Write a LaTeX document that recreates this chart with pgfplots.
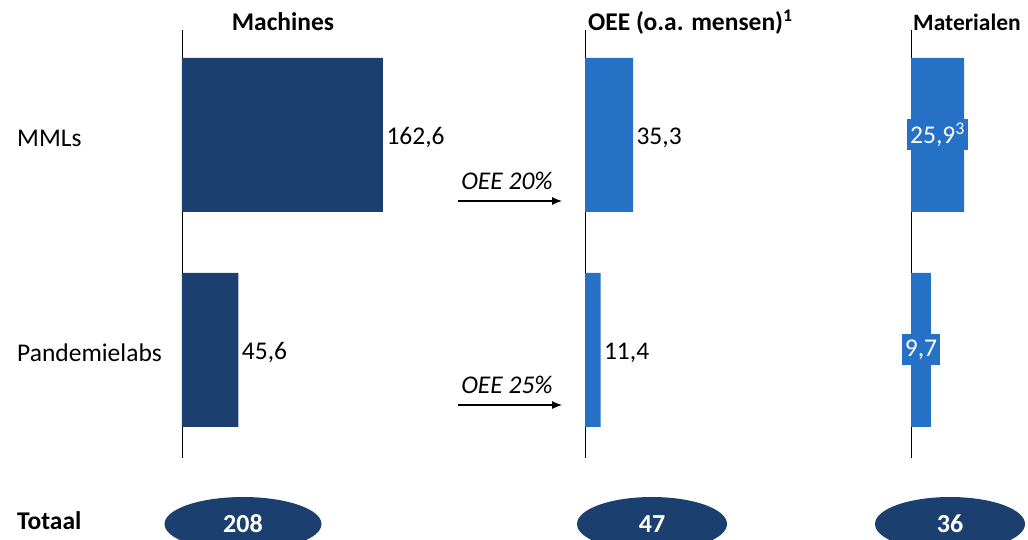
\documentclass[border=0pt]{standalone}
\usepackage{pgfplots}
\pgfplotsset{compat=1.18}
\usepackage{pgfplotstable}
\usepackage{fontspec}
\setmainfont{Carlito}
\usetikzlibrary{arrows.meta,shapes.geometric}
\definecolor{navy}{HTML}{1B3F6E}
\definecolor{midblue}{HTML}{2571C5}
\newcommand\lbl{\fontsize{25.5}{30}\selectfont}

% values per panel (cat 0 = MMLs, 1 = Pandemielabs)
\pgfplotstableread{
cat v
0 162.6
1 45.6
}\machines
\pgfplotstableread{
cat v
0 35.3
1 11.4
}\oee
\pgfplotstableread{
cat v lab
0 25.9 {25,9\textsuperscript{3}}
1 9.7 {9,7}
}\materialen

\pgfplotsset{
  panel/.style={
    anchor=north west, scale only axis, clip=false,
    y=215pt, y dir=reverse, ymin=-0.488, ymax=1.502,
    xmin=0,
    axis x line=none, axis y line=left,
    axis line style={-, black, line width=0.9pt},
    ytick=\empty, major tick length=0pt,
    /pgf/number format/use comma,
    /pgf/number format/fixed,
    /pgf/number format/fixed zerofill,
    /pgf/number format/precision=1,
    /pgf/number format/assume math mode=true,
  },
  valbar/.style={xbar, bar width=154pt, draw=none, fill=#1,
    nodes near coords, nodes near coords style={font=\lbl, text=black, yshift=-3pt}},
}

\begin{document}
\begin{tikzpicture}[x=1pt, y=1pt]
\useasboundingbox (0pt,0pt) rectangle (1028pt,-539pt);

% Machines
\begin{axis}[panel, at={(182pt,-30pt)}, x=1.236pt, xmax=200,
  ytick={0,1}, yticklabels={MMLs,Pandemielabs},
  yticklabel style={anchor=west, inner sep=0pt, xshift=-165pt, yshift=-3pt, font=\lbl}]
\addplot[valbar=navy] table[x=v, y=cat] {\machines};
\end{axis}

% OEE
\begin{axis}[panel, at={(585pt,-30pt)}, x=1.36pt, xmax=40]
\addplot[valbar=midblue] table[x=v, y=cat] {\oee};
\end{axis}

% Materialen
\begin{axis}[panel, at={(911pt,-30pt)}, x=2.05pt, xmax=40]
\addplot[xbar, bar width=154pt, draw=none, fill=midblue] table[x=v, y=cat] {\materialen};
\addplot[draw=none, mark=none, nodes near coords, point meta=explicit symbolic,
  nodes near coords style={anchor=center, font=\lbl, text=white, fill=midblue,
    inner xsep=3pt, inner ysep=0pt, minimum height=31pt}]
  table[x expr=\thisrow{v}/2, y=cat, meta=lab] {\materialen};
\end{axis}

% titles
\node[font=\lbl\bfseries] at (283pt,-22pt) {Machines};
\node[font=\lbl\bfseries, anchor=west, inner sep=0pt] at (588pt,-22pt) {OEE (o.a. mensen)\textsuperscript{1}};
\node[font=\fontsize{23.5}{28}\selectfont\bfseries, anchor=west, inner sep=0pt] at (913pt,-22pt) {Materialen};

% OEE conversion arrows
\node[font=\lbl\itshape] at (507pt,-181pt) {OEE 20\%};
\draw[-{Latex[length=10pt,width=8pt]}, line width=1.1pt] (458pt,-201pt) -- (562pt,-201pt);
\node[font=\lbl\itshape] at (507pt,-385pt) {OEE 25\%};
\draw[-{Latex[length=10pt,width=8pt]}, line width=1.1pt] (458pt,-405pt) -- (562pt,-405pt);

% totals
\node[font=\lbl\bfseries, anchor=west, inner sep=0pt] at (17pt,-521pt) {Totaal};
\node[ellipse, fill=navy, minimum width=157pt, minimum height=54pt, inner sep=0pt,
  font=\fontsize{26}{30}\selectfont\bfseries, text=white] at (243pt,-524pt) {208};
\node[ellipse, fill=navy, minimum width=150pt, minimum height=54pt, inner sep=0pt,
  font=\fontsize{26}{30}\selectfont\bfseries, text=white] at (652pt,-524pt) {47};
\node[ellipse, fill=navy, minimum width=150pt, minimum height=54pt, inner sep=0pt,
  font=\fontsize{26}{30}\selectfont\bfseries, text=white] at (950pt,-524pt) {36};
\end{tikzpicture}
\end{document}
